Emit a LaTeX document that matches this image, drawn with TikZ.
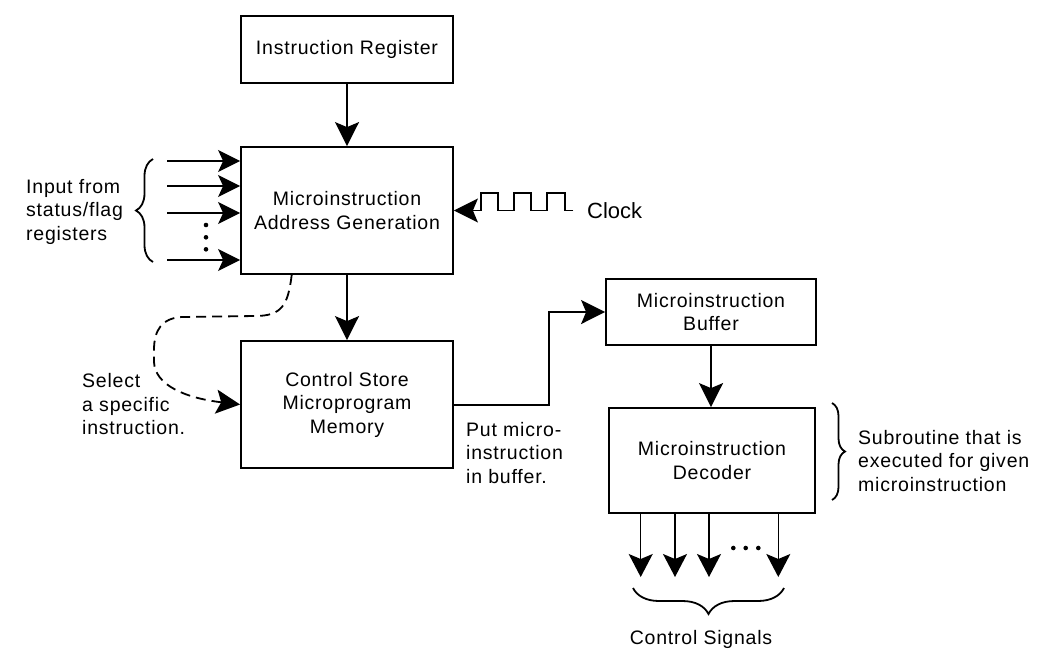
\documentclass[tikz,border=0pt]{standalone}
\usepackage{fontspec}
\setmainfont{Liberation Sans}[LetterSpace=4]
\newfontfamily\clockfont{Liberation Sans}
\usetikzlibrary{arrows.meta,decorations.pathreplacing}
\begin{document}
\begin{tikzpicture}[x=1pt,y=-1pt,
  txt/.style={font=\fontsize{19.5}{23.5}\selectfont},
  box/.style={draw, line width=1.8pt, align=center, inner sep=0pt, txt},
  lbl/.style={align=left, inner sep=0pt, txt},
  bigtip/.style={-{Stealth[length=24pt,width=24pt,inset=5pt]}},
  big/.style={bigtip, line width=2pt},
  inarrow/.style={-{Stealth[length=22pt,width=22pt,inset=5pt]}, line width=1.6pt},
  outarrow/.style={-{Stealth[length=23pt,width=24pt,inset=5pt]}, line width=1.4pt},
  dashconn/.style={bigtip, line width=1.8pt, dash pattern=on 10pt off 6pt},
  bracestyle/.style={line width=1.8pt, decorate},
  dotmark/.style={fill=black, draw=none}
]
\useasboundingbox[fill=white] (0,0) rectangle (1051,670);

% boxes
\node[box, minimum width=212pt, minimum height=67pt] (ir) at (347,49.5) {Instruction Register};
\node[box, minimum width=212pt, minimum height=127pt] (mag) at (347,210.5) {Microinstruction\\Address Generation};
\node[box, minimum width=212pt, minimum height=127pt] (csm) at (347,404.5) {Control Store\\Microprogram\\Memory};
\node[box, minimum width=210pt, minimum height=66pt] (mb) at (711,312) {Microinstruction\\Buffer};
\node[box, minimum width=206pt, minimum height=105pt] (md) at (712,460.5) {Microinstruction\\Decoder};

% main connectors
\draw[big] (ir) -- (mag);
\draw[big] (mag) -- (csm);
\draw[big] (csm.east) -- ++(95,0) |- (mb.west);
\draw[big] (mb.south) -- (mb.south |- md.north);

% inputs
\foreach \yy [count=\i] in {161,186,213,260} {
  \coordinate (in\i) at (167,\yy);
  \draw[inarrow] (in\i) -- (in\i -| mag.west);
}
\foreach \yy in {225,237.3,249.3} \fill[dotmark] (206,\yy) circle (2.3pt);
\draw[bracestyle, decoration={brace, amplitude=17pt}] (153,262) -- (153,159);
\node[lbl, anchor=west] (inputlbl) at (26,211.5) {Input from\\status/flag\\registers};

% clock
\coordinate (clk) at (573.3,210.5);
\draw[bigtip, line width=1.8pt] (clk) -- (565,210.5) -- (565,193.3) -- (547.3,193.3) -- (547.3,210.5)
  -- (530.7,210.5) -- (530.7,193.3) -- (514,193.3) -- (514,210.5) -- (498.3,210.5)
  -- (498.3,193.3) -- (480.7,193.3) -- (480.7,210.5) -- (mag.east);
\node[anchor=west, inner sep=0pt, font=\clockfont\fontsize{22}{26}\selectfont] (clock) at (587,211) {Clock};

% dashed select
\coordinate (ds) at (291.7,275);
\draw[dashconn] (ds) .. controls (288,305) and (282,316) .. (255,316) -- (182,317)
  .. controls (162,318) and (154,330) .. (154,350) -- (154,362)
  .. controls (155,385) and (185,398) .. (csm.west);
\node[lbl, anchor=west] (selectlbl) at (82,404.5) {Select\\a specific\\instruction.};

% put label
\node[lbl, anchor=west] (putlbl) at (466,453) {Put micro-\\instruction\\in buffer.};

% decoder outputs
\foreach \xx [count=\i] in {640.7,675,709,778.3} {
  \coordinate (o\i) at (\xx,577);
  \draw[outarrow] (o\i |- md.south) -- (o\i);
}
\foreach \xx in {733.3,745.7,758.3} \fill[dotmark] (\xx,548) circle (2.3pt);
\draw[bracestyle, decoration={brace, amplitude=26pt}] (784,588) -- (633,588);
\node[txt, inner sep=0pt] (ctrlsig) at (701,639) {Control Signals};

% subroutine brace
\draw[bracestyle, decoration={brace, amplitude=13pt}] (832,403) -- (832,500);
\node[lbl, anchor=west] (sublbl) at (858,461) {Subroutine that is\\executed for given\\microinstruction};
\end{tikzpicture}
\end{document}
